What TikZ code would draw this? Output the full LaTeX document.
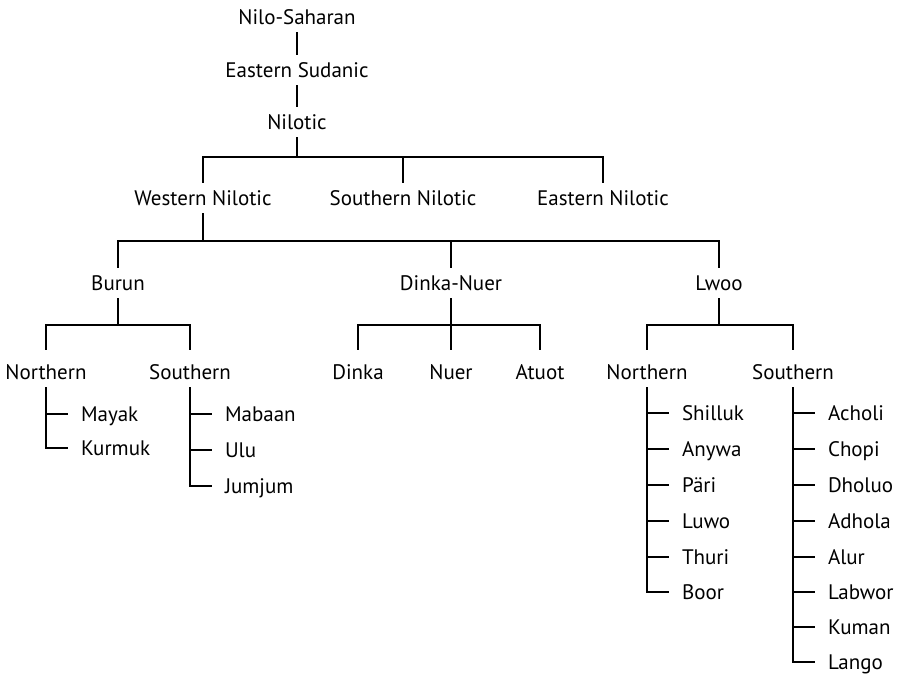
\documentclass[tikz,border=0pt]{standalone}
\usepackage{fontspec}
\setmainfont{PT Sans}
\begin{document}
\begin{tikzpicture}[x=1pt,y=-1pt,
  lbl/.style={font=\fontsize{21}{24}\selectfont, inner sep=0pt, text height=14.7pt, text depth=0pt, outer ysep=8pt, outer xsep=0pt},
  leaf/.style={lbl, anchor=west, outer xsep=13pt},
  conn/.style={draw=black, line width=1.2pt}]
\useasboundingbox (0,0) rectangle (905,675);
% upper levels
\node[lbl] (ns)  at (297,17)  {Nilo-Saharan};
\node[lbl] (es)  at (297,70)  {Eastern Sudanic};
\node[lbl] (nil) at (297,122) {Nilotic};
\node[lbl] (wn)  at (203,198) {Western Nilotic};
\node[lbl] (sn)  at (403,198) {Southern Nilotic};
\node[lbl] (en)  at (603,198) {Eastern Nilotic};
\node[lbl] (bur) at (118,283) {Burun};
\node[lbl] (dn)  at (451,283) {Dinka-Nuer};
\node[lbl] (lw)  at (719,283) {Lwoo};
\node[lbl] (bn)  at (46,372)  {Northern};
\node[lbl] (bs)  at (190,372) {Southern};
\node[lbl] (dk)  at (358,372) {Dinka};
\node[lbl] (nu)  at (451,372) {Nuer};
\node[lbl] (at)  at (540,372) {Atuot};
\node[lbl] (ln)  at (647,372) {Northern};
\node[lbl] (ls)  at (793,372) {Southern};
% leaves
\node[leaf] (may) at (68,414)  {Mayak};
\node[leaf] (kur) at (68,448)  {Kurmuk};
\node[leaf] (mab) at (212,414) {Mabaan};
\node[leaf] (ulu) at (212,450) {Ulu};
\node[leaf] (jum) at (212,486) {Jumjum};
\node[leaf] (shi) at (669,413) {Shilluk};
\node[leaf] (any) at (669,449) {Anywa};
\node[leaf] (par) at (669,485) {Päri};
\node[leaf] (luw) at (669,521) {Luwo};
\node[leaf] (thu) at (669,557) {Thuri};
\node[leaf] (boo) at (669,592) {Boor};
\node[leaf] (ach) at (815,413) {Acholi};
\node[leaf] (cho) at (815,449) {Chopi};
\node[leaf] (dho) at (815,485) {Dholuo};
\node[leaf] (adh) at (815,521) {Adhola};
\node[leaf] (alu) at (815,557) {Alur};
\node[leaf] (lab) at (815,592) {Labwor};
\node[leaf] (kum) at (815,627) {Kuman};
\node[leaf] (lan) at (815,662) {Lango};
% bus levels
\coordinate (b1) at (0,157);
\coordinate (b2) at (0,241);
\coordinate (b3) at (0,325);
% connectors
\draw[conn] (ns) -- (es);
\draw[conn] (es) -- (nil);
\draw[conn] (nil.south) -- (nil.south |- b1);
\draw[conn] (wn.north) |- (en.north |- b1) -- (en.north);
\draw[conn] (sn.north) -- (sn.north |- b1);
\draw[conn] (wn.south) -- (wn.south |- b2);
\draw[conn] (bur.north) |- (lw.north |- b2) -- (lw.north);
\draw[conn] (dn.north) -- (dn.north |- b2);
\draw[conn] (bur.south) -- (bur.south |- b3);
\draw[conn] ([yshift=7pt]bn.north) |- (bs.north |- b3) -- ([yshift=7pt]bs.north);
\draw[conn] (dn.south) -- (dn.south |- b3);
\draw[conn] ([yshift=7pt]dk.north) |- (at.north |- b3) -- ([yshift=7pt]at.north);
\draw[conn] ([yshift=7pt]nu.north) -- (nu.north |- b3);
\draw[conn] (lw.south) -- (lw.south |- b3);
\draw[conn] ([yshift=7pt]ln.north) |- (ls.north |- b3) -- ([yshift=7pt]ls.north);
% leaf connectors
\draw[conn] (bn.south) |- (kur.west);
\draw[conn] (bn.south |- may) -- (may.west);
\draw[conn] (bs.south) |- (jum.west);
\draw[conn] (bs.south |- mab) -- (mab.west);
\draw[conn] (bs.south |- ulu) -- (ulu.west);
\draw[conn] (ln.south) |- (boo.west);
\foreach \n in {shi,any,par,luw,thu} \draw[conn] (ln.south |- \n) -- (\n.west);
\draw[conn] (ls.south) |- (lan.west);
\foreach \n in {ach,cho,dho,adh,alu,lab,kum} \draw[conn] (ls.south |- \n) -- (\n.west);
\end{tikzpicture}
\end{document}
